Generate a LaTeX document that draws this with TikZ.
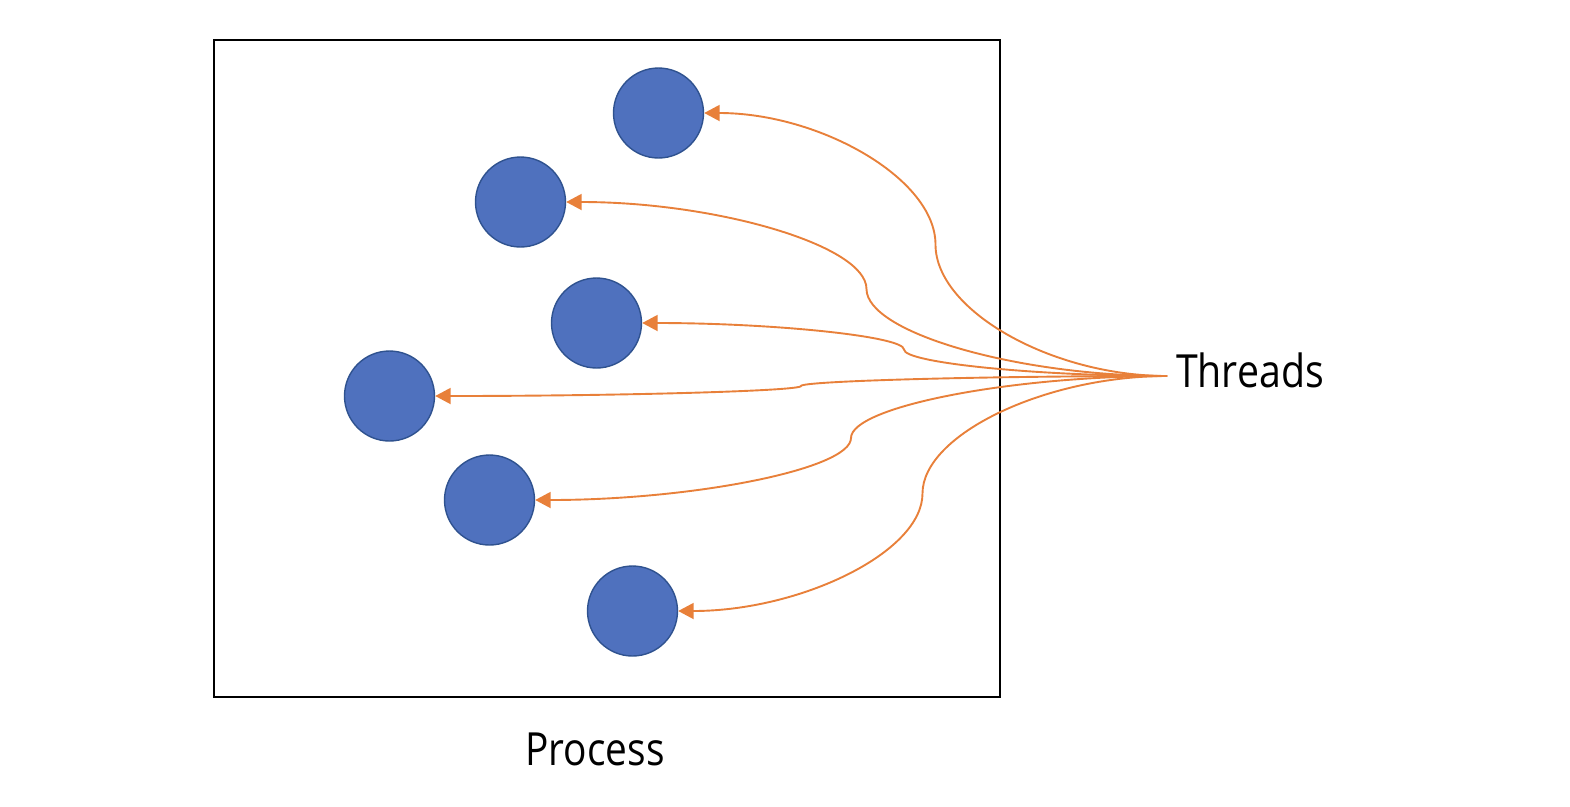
\documentclass[tikz,border=0pt]{standalone}
\usepackage{fontspec}
\setmainfont{Open Sans}
\usetikzlibrary{arrows.meta}
\definecolor{ball}{HTML}{4F71BE}
\definecolor{ballline}{HTML}{2F528F}
\definecolor{thr}{HTML}{E8803A}
\begin{document}
\begin{tikzpicture}[x=0.02cm,y=-0.02cm,
  ball/.style={circle,fill=ball,draw=ballline,line width=0.028cm,minimum size=1.8cm,inner sep=0pt},
  thread/.style={draw=thr,line width=0.038cm,-{Triangle[length=0.31cm,width=0.32cm]}},
  lbl/.style={font=\fontsize{26}{30}\selectfont,inner sep=0pt,anchor=base}]
\useasboundingbox (0,0) rectangle (1570,806);
\node[draw,line width=0.04cm,minimum width=15.72cm,minimum height=13.14cm,inner sep=0pt] (proc) at (607,368.5) {};
\node[ball] (c1) at (658.5,113) {};
\node[ball] (c2) at (520.5,202) {};
\node[ball] (c3) at (596.5,323) {};
\node[ball] (c4) at (389.5,396) {};
\node[ball] (c5) at (489.5,500) {};
\node[ball] (c6) at (632.5,611) {};
\node[lbl] (threads) at (1250,387) {\scalebox{0.86}[1]{Threads}};
\node[lbl] (process) at (595,765) {\scalebox{0.85}[1]{Process}};
\coordinate (tp) at (1167,376);
\coordinate (m1) at (935.5,244.5);
\coordinate (m2) at (866.5,289);
\coordinate (m3) at (904,349.5);
\coordinate (m4) at (801,386);
\coordinate (m5) at (851,438);
\coordinate (m6) at (922.5,493.5);
\draw[thread] (tp) .. controls (1051.25,376) and (935.5,310.25) .. (m1)
  .. controls (935.5,178.75) and (819.75,113) .. (c1.east);
\draw[thread] (tp) .. controls (1016.75,376) and (866.5,332.5) .. (m2)
  .. controls (866.5,245.5) and (716.25,202) .. (c2.east);
\draw[thread] (tp) .. controls (1035.5,376) and (904,362.75) .. (m3)
  .. controls (904,336.25) and (772.5,323) .. (c3.east);
\draw[thread] (tp) .. controls (984,376) and (801,381) .. (m4)
  .. controls (801,391) and (618,396) .. (c4.east);
\draw[thread] (tp) .. controls (1009,376) and (851,407) .. (m5)
  .. controls (851,469) and (693,500) .. (c5.east);
\draw[thread] (tp) .. controls (1044.75,376) and (922.5,434.75) .. (m6)
  .. controls (922.5,552.25) and (800.25,611) .. (c6.east);
\end{tikzpicture}
\end{document}
